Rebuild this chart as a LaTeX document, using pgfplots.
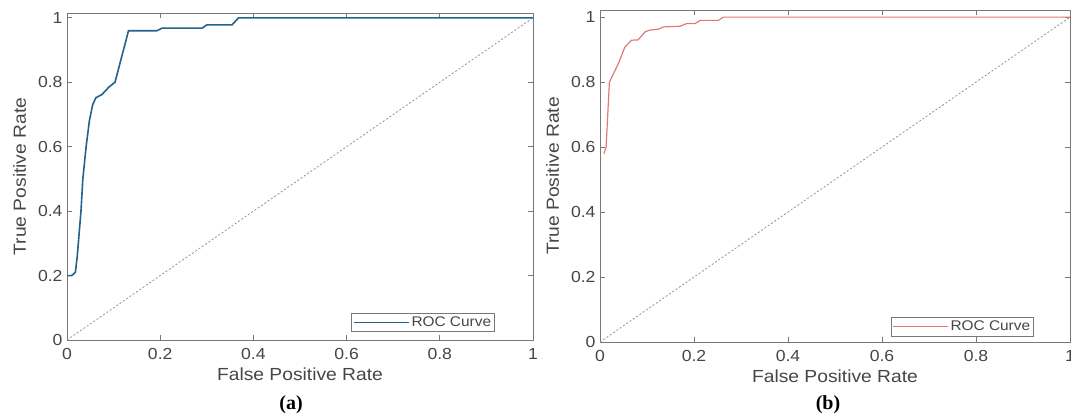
\documentclass[border=0pt]{standalone}
\usepackage{fontspec}
\setmainfont{Liberation Sans}[FakeStretch=1.1]
\newfontfamily\capserif{Liberation Serif}
\usepackage{pgfplots}
\pgfplotsset{compat=1.18}
\definecolor{rocblue}{RGB}{35,98,140}
\definecolor{rocred}{RGB}{226,120,120}
\definecolor{axgray}{RGB}{120,120,120}
\definecolor{txtgray}{RGB}{70,70,70}
\pgfplotsset{
  rocaxis/.style={
    scale only axis=true,
    xmin=0, xmax=1, ymin=0,
    xtick={0,0.2,0.4,0.6,0.8,1},
    ytick={0,0.2,0.4,0.6,0.8,1},
    /pgf/number format/assume math mode=true,
    tick align=inside,
    major tick length=5pt,
    axis line style={axgray, line width=1pt},
    every tick/.style={axgray, line width=0.7pt},
    tick label style={font=\fontsize{16}{16}\selectfont, text=txtgray},
    xticklabel style={yshift=-5pt},
    yticklabel style={xshift=-1pt},
    label style={font=\fontsize{17.5}{17.5}\selectfont, text=txtgray},
    xlabel={False Positive Rate},
    ylabel={True Positive Rate},
    xlabel shift={1pt},
    ylabel shift={5pt},
    legend style={draw=axgray, font=\fontsize{14}{14}\selectfont, text=txtgray,
      inner sep=1.5pt, row sep=0pt, legend cell align=left},
    legend image code/.code={\draw[#1] (0pt,0pt) -- (55pt,0pt);},
  }
}
\begin{document}
\begin{tikzpicture}
\useasboundingbox (0pt,0pt) rectangle (1071pt,-415pt);
\begin{axis}[rocaxis,
  at={(67pt,-340pt)}, anchor=south west,
  width=466pt, height=327pt, ymax=1.015,
  legend style={at={(0.918,0.025)}, anchor=south east}]
\addplot[rocblue, line width=1.6pt] coordinates {
(0,0.2) (0.01,0.2) (0.018,0.21) (0.022,0.26) (0.03,0.40) (0.034,0.50) (0.041,0.60)
(0.048,0.68) (0.055,0.73) (0.062,0.752) (0.075,0.762) (0.09,0.785) (0.103,0.80)
(0.132,0.96) (0.193,0.96) (0.204,0.968) (0.29,0.968) (0.30,0.978) (0.354,0.978)
(0.368,1.0) (1,1.0)};
\addlegendentry{ROC Curve}
\addplot[axgray!80, line width=0.8pt, dash pattern=on 2pt off 2pt, forget plot] coordinates {(0,0) (1,1)};
\end{axis}
\node[font=\capserif\bfseries\fontsize{20}{20}\selectfont, text=black] at (291pt,-405pt) {(a)};
\begin{axis}[rocaxis,
  at={(600pt,-342pt)}, anchor=south west,
  width=470pt, height=332pt, ymax=1.022,
  legend style={at={(0.923,0.018)}, anchor=south east}]
\addplot[rocred, line width=1.2pt] coordinates {
(0.0085,0.58) (0.013,0.60) (0.02,0.80) (0.039,0.857) (0.053,0.908) (0.067,0.929)
(0.081,0.93) (0.096,0.955) (0.106,0.96) (0.124,0.963) (0.135,0.97) (0.17,0.972)
(0.184,0.98) (0.202,0.98) (0.213,0.99) (0.252,0.99) (0.262,1.0) (1,1.0)};
\addlegendentry{ROC Curve}
\addplot[axgray!80, line width=0.8pt, dash pattern=on 2pt off 2pt, forget plot] coordinates {(0,0) (1,1)};
\end{axis}
\node[font=\capserif\bfseries\fontsize{20}{20}\selectfont, text=black] at (828pt,-405pt) {(b)};
\end{tikzpicture}
\end{document}
